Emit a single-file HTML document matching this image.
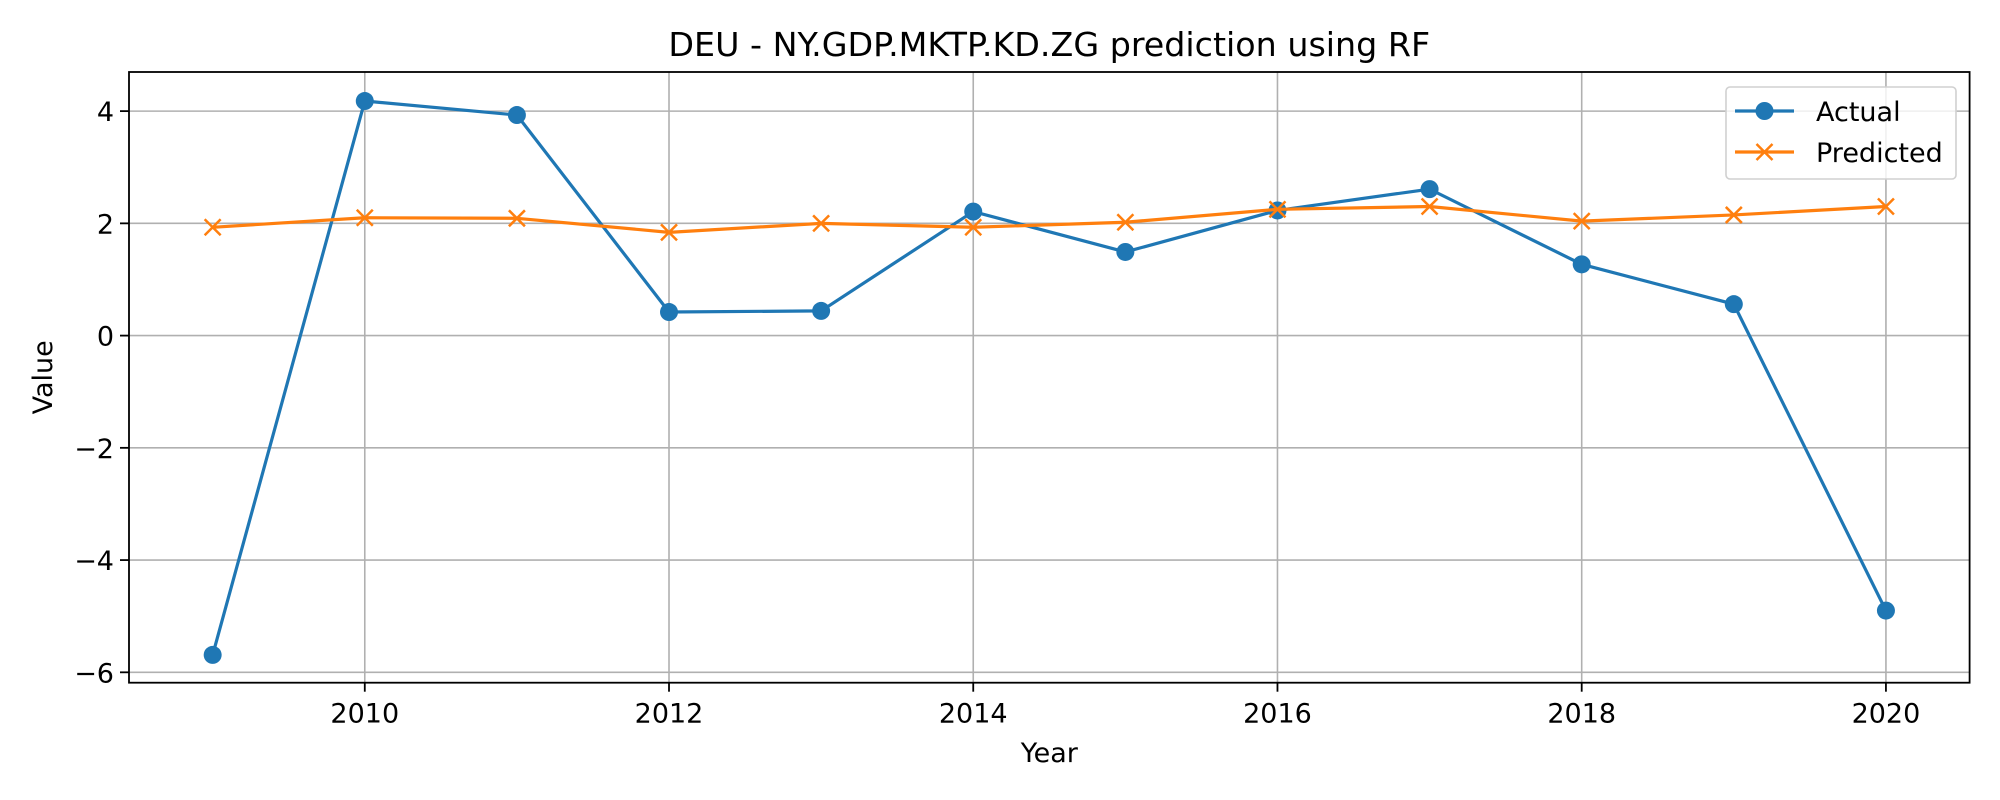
<!DOCTYPE html>
<html><head><meta charset="utf-8"><style>
body{margin:0;background:#fff}
svg{display:block;font-family:"DejaVu Sans","Liberation Sans",sans-serif}
</style></head><body>
<svg id="chart" width="2000" height="800" xmlns="http://www.w3.org/2000/svg"></svg>
<script>
const years=[2009,2010,2011,2012,2013,2014,2015,2016,2017,2018,2019,2020];
const actual=[-5.69,4.18,3.93,0.42,0.44,2.21,1.49,2.23,2.61,1.27,0.56,-4.9];
const predicted=[1.93,2.1,2.09,1.84,2.0,1.93,2.02,2.25,2.3,2.04,2.15,2.3];
const xTicks=[2010,2012,2014,2016,2018,2020];
const yTicks=[-6,-4,-2,0,2,4];
const L=129,R=1969.6,T=72,B=682.7;
const x0=2008.45,x1=2020.55,y0=-6.185,y1=4.697;
const sx=v=>L+(v-x0)/(x1-x0)*(R-L);
const sy=v=>B-(v-y0)/(y1-y0)*(B-T);
const svg=document.getElementById('chart');
const NS='http://www.w3.org/2000/svg';
function mk(tag,attrs,parent){const e=document.createElementNS(NS,tag);for(const k in attrs)e.setAttribute(k,attrs[k]);(parent||svg).appendChild(e);return e;}
const grid=mk('g',{});


xTicks.forEach(t=>{
  const l=mk('line',{x1:sx(t),x2:sx(t),y1:T,y2:B,stroke:'#b0b0b0','stroke-width':1.6},grid);
  
  
  mk('line',{x1:sx(t),x2:sx(t),y1:B,y2:B+9,stroke:'#000','stroke-width':1.8});
  const tx=mk('text',{x:sx(t),y:B+40,'text-anchor':'middle','font-size':27});
  tx.textContent=t;
  
  
});
yTicks.forEach(t=>{
  const l=mk('line',{x1:L,x2:R,y1:sy(t),y2:sy(t),stroke:'#b0b0b0','stroke-width':1.6},grid);
  
  
  mk('line',{x1:L-9,x2:L,y1:sy(t),y2:sy(t),stroke:'#000','stroke-width':1.8});
  const tx=mk('text',{x:L-15,y:sy(t)+10,'text-anchor':'end','font-size':27});
  tx.textContent=t<0?'\u2212'+(-t):t;
  
  
});
const pa=mk('polyline',{points:years.map((y,i)=>sx(y)+','+sy(actual[i])).join(' '),fill:'none',stroke:'#1f77b4','stroke-width':3.2});


years.forEach((y,i)=>{
  const c=mk('circle',{cx:sx(y),cy:sy(actual[i]),r:9,fill:'#1f77b4'});
  
  
});
const pp=mk('polyline',{points:years.map((y,i)=>sx(y)+','+sy(predicted[i])).join(' '),fill:'none',stroke:'#ff7f0e','stroke-width':3.2});


function cross(cx,cy,g){const d=8;mk('path',{d:`M${cx-d},${cy-d}L${cx+d},${cy+d}M${cx-d},${cy+d}L${cx+d},${cy-d}`,stroke:'#ff7f0e','stroke-width':2.5},g);}
years.forEach((y,i)=>{
  const g=mk('g',{});
  
  
  cross(sx(y),sy(predicted[i]),g);
});
const fr=mk('rect',{x:L,y:T,width:R-L,height:B-T,fill:'none',stroke:'#000','stroke-width':1.8});


const title=mk('text',{x:(L+R)/2,y:56,'text-anchor':'middle','font-size':33.3});
title.textContent='DEU - NY.GDP.MKTP.KD.ZG prediction using RF';


const xl=mk('text',{x:(L+R)/2,y:762,'text-anchor':'middle','font-size':27});
xl.textContent='Year';


const yl=mk('text',{x:0,y:0,'text-anchor':'middle','font-size':27,transform:`translate(52,${(T+B)/2}) rotate(-90)`});
yl.textContent='Value';


const lg=mk('g',{});


mk('rect',{x:1726,y:87,width:230,height:92,rx:4,fill:'#fff','fill-opacity':0.8,stroke:'#d0d0d0','stroke-width':1.6},lg);
const e1=mk('g',{},lg);


mk('line',{x1:1735,x2:1794,y1:111,y2:111,stroke:'#1f77b4','stroke-width':3.2},e1);
mk('circle',{cx:1764.5,cy:111,r:9,fill:'#1f77b4'},e1);
const t1=mk('text',{x:1816,y:121,'font-size':27},e1);t1.textContent='Actual';
const e2=mk('g',{},lg);


mk('line',{x1:1735,x2:1794,y1:152,y2:152,stroke:'#ff7f0e','stroke-width':3.2},e2);
cross(1764.5,152,e2);
const t2=mk('text',{x:1816,y:162,'font-size':27},e2);t2.textContent='Predicted';
</script>
</body></html>
